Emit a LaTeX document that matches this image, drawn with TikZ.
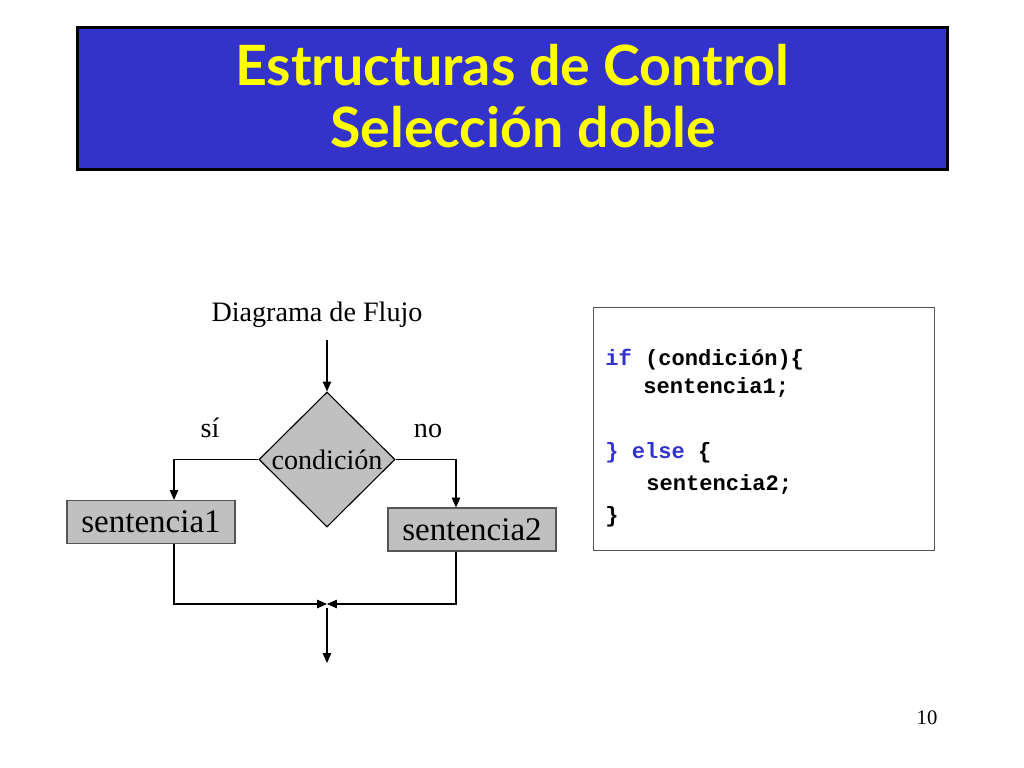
\documentclass[tikz,border=0pt]{standalone}
\usepackage{fontspec}
\setmainfont{Liberation Serif}
\setmonofont{Liberation Mono}
\newfontfamily\titlefont{Lato}
\usepackage{xcolor}
\usetikzlibrary{arrows.meta,shapes.geometric,positioning}
\definecolor{titleblue}{HTML}{3333CC}
\definecolor{titleyellow}{HTML}{FFFF00}
\definecolor{codeblue}{HTML}{3333CC}
\definecolor{boxgray}{HTML}{C0C0C0}
\definecolor{edgegray}{HTML}{555555}

\tikzset{
  flow/.style={line width=0.8pt,-{Triangle[length=7pt,width=6pt]}},
  stmt/.style={draw=edgegray,fill=boxgray,line width=0.8pt,minimum width=4.2cm,minimum height=1.075cm,inner sep=0pt,font=\fontsize{23.5}{26}\selectfont},
  decision/.style={diamond,draw=black,fill=boxgray,line width=0.8pt,inner sep=0pt,minimum width=3.4cm,minimum height=3.375cm,font=\fontsize{20}{22}\selectfont},
  codeline/.style={anchor=base west,inner sep=0pt,font=\ttfamily\bfseries\fontsize{15.7}{18}\selectfont},
  label/.style={inner sep=0pt,anchor=base,font=\fontsize{20}{22}\selectfont},
  headline/.style={anchor=base,inner sep=0pt,text=titleyellow,font=\titlefont\bfseries\fontsize{39.5}{44}\selectfont}
}

\begin{document}
\begin{tikzpicture}[x=0.025cm,y=-0.025cm]
  \useasboundingbox (0,0) rectangle (1024,768);
  % title
  \node[draw=black,line width=2.2pt,fill=titleblue,minimum width=21.75cm,minimum height=3.55cm,inner sep=0pt] (titlebox) at (512.5,98.5) {};
  \node[headline] (title1) at (512,86) {Estructuras de Control};
  \node[headline] (title2) at (523,148) {Selección doble};

  % flowchart
  \node[label] (flowtitle) at (317,321) {Diagrama de Flujo};
  \coordinate (start) at (327,340);
  \node[decision] (cond) at (327,459.5) {condición};
  \node[stmt] (s1) at (151,522) {sentencia1};
  \node[stmt] (s2) at (472,529.5) {sentencia2};
  \node[label] (yes) at (210,437) {sí};
  \node[label] (no) at (428,437) {no};
  \coordinate (join) at (327,604);
  \coordinate (stop) at (327,663);

  \draw[flow] (start) -- (cond.north);
  \draw[flow] (cond.west) -| ([xshift=0.575cm]s1.north);
  \draw[flow] (cond.east) -| ([xshift=-0.4cm]s2.north);
  \draw[flow] ([xshift=0.575cm]s1.south) |- (join);
  \draw[flow] ([xshift=-0.4cm]s2.south) |- (join);
  \draw[flow] ([yshift=-0.1cm]join) -- (stop);

  % code
  \node[draw=edgegray,line width=0.8pt,minimum width=8.52cm,minimum height=6.09cm,inner sep=0pt] (codebox) at (763.7,429) {};
  \node[codeline] (c1) at (605,365) {\textcolor{codeblue}{if} (condición)\{};
  \node[codeline] (c2) at (643,393) {sentencia1;};
  \node[codeline] (c3) at (605,458) {\textcolor{codeblue}{\} else} \{};
  \node[codeline] (c4) at (646,490) {sentencia2;};
  \node[codeline] (c5) at (605,522) {\}};

  \node[anchor=base,inner sep=0pt,font=\fontsize{14.7}{16}\selectfont] (page) at (927,724) {10};
\end{tikzpicture}
\end{document}
